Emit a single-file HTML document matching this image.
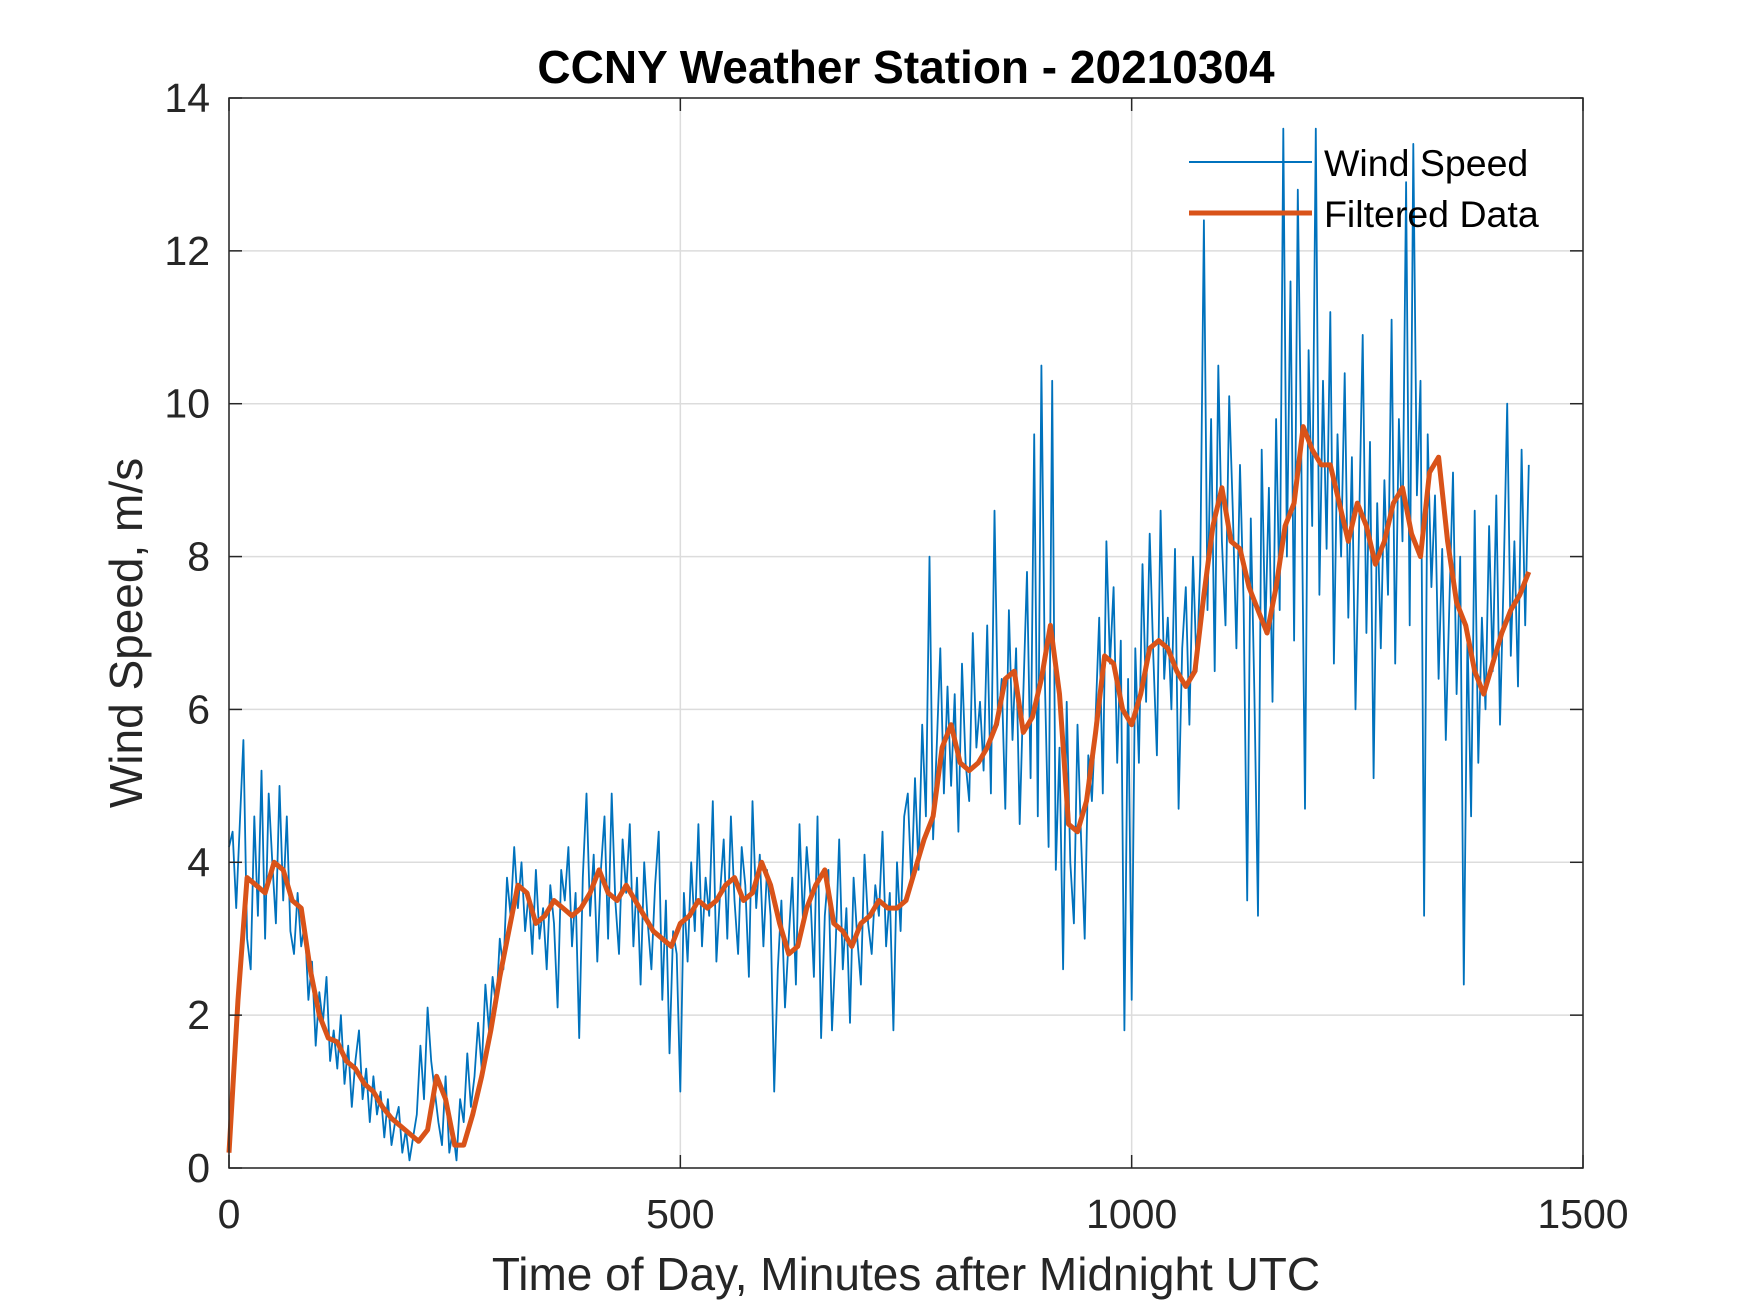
<!DOCTYPE html>
<html><head><meta charset="utf-8"><style>
html,body{margin:0;padding:0;background:#fff;}
svg{display:block;font-family:"Liberation Sans",Arial,sans-serif;}
</style></head><body>
<svg id="chart" width="1750" height="1313" viewBox="0 0 1750 1313">
<rect width="1750" height="1313" fill="#fff"/>
<g id="grid"></g>
<g id="series"></g>
<g id="axes"></g>
<text x="906" y="83" text-anchor="middle" font-size="46" font-weight="bold" fill="#000">CCNY Weather Station - 20210304</text>
<text x="906" y="1290" text-anchor="middle" font-size="46" fill="#262626">Time of Day, Minutes after Midnight UTC</text>
<text transform="translate(142,633) rotate(-90)" text-anchor="middle" font-size="46" fill="#262626">Wind Speed, m/s</text>
<g>
<line x1="1189" y1="162" x2="1312" y2="162" stroke="#0072BD" stroke-width="2"/>
<text x="1324" y="176" font-size="37.5" fill="#000">Wind Speed</text>
<line x1="1189" y1="213" x2="1312" y2="213" stroke="#D95319" stroke-width="5"/>
<text x="1324" y="227" font-size="37.5" fill="#000">Filtered Data</text>
</g>
</svg>
<script>
const rawStep = 4;
const rawValues = [
4.2,4.4,3.4,4.5,5.6,3.0,2.6,4.6,3.3,5.2,
3.0,4.9,4.0,3.2,5.0,3.5,4.6,3.1,2.8,3.6,
2.9,3.2,2.2,2.7,1.6,2.3,1.9,2.5,1.4,1.8,
1.3,2.0,1.1,1.6,0.8,1.4,1.8,0.9,1.3,0.6,
1.2,0.7,1.0,0.4,0.9,0.3,0.6,0.8,0.2,0.5,
0.1,0.4,0.7,1.6,0.9,2.1,1.4,1.0,0.6,0.3,
1.2,0.2,0.5,0.1,0.9,0.6,1.5,0.8,1.2,1.9,
1.3,2.4,1.8,2.5,2.1,3.0,2.6,3.8,3.3,4.2,
3.4,4.0,3.1,3.6,2.8,3.9,3.0,3.4,2.6,3.7,
3.2,2.1,3.9,3.5,4.2,2.9,3.6,1.7,3.8,4.9,
3.3,4.1,2.7,3.9,4.6,3.0,4.9,3.5,2.8,4.3,
3.6,4.5,2.9,3.8,2.4,4.0,3.2,2.6,3.7,4.4,
2.2,3.5,1.5,3.1,2.8,1.0,3.6,2.7,4.0,3.1,
4.5,2.9,3.8,3.3,4.8,2.7,3.6,4.3,3.0,4.6,
3.5,2.8,4.2,3.7,2.5,4.8,3.4,4.1,2.9,3.9,
3.3,1.0,2.6,3.5,2.1,3.0,3.8,2.4,4.5,3.2,
4.2,3.6,2.5,4.6,1.7,3.3,3.9,1.8,2.9,4.3,
2.6,3.4,1.9,3.8,3.0,2.4,4.1,3.2,2.8,3.7,
3.3,4.4,2.9,3.6,1.8,4.0,3.1,4.6,4.9,3.7,
5.1,3.9,5.8,4.6,8.0,4.3,5.5,6.8,4.9,6.3,
5.0,6.2,4.4,6.6,5.3,4.8,7.0,5.5,6.1,5.2,
7.1,4.9,8.6,5.8,6.4,4.7,7.3,5.6,6.8,4.5,
6.2,7.8,5.1,9.6,4.6,10.5,6.3,4.2,10.3,3.9,
5.5,2.6,6.1,4.0,3.2,5.8,4.3,3.0,5.4,4.8,
5.9,7.2,4.9,8.2,6.6,7.6,5.3,6.9,1.8,6.4,
2.2,6.8,5.3,7.9,6.1,8.3,6.7,5.4,8.6,6.4,
7.2,6.0,8.1,4.7,6.8,7.6,5.8,8.0,6.5,7.9,
12.4,7.3,9.8,6.5,10.5,8.2,7.1,10.1,8.6,6.8,
9.2,7.4,3.5,8.5,6.2,3.3,9.4,7.0,8.9,6.1,
9.8,7.3,13.6,8.0,11.6,6.9,12.8,9.2,4.7,10.7,
8.4,13.6,7.5,10.3,8.1,11.2,6.6,9.6,8.0,10.4,
7.2,9.3,6.0,8.4,10.9,7.0,9.5,5.1,8.7,6.8,
9.0,7.5,11.1,6.6,9.8,8.2,12.9,7.1,13.4,8.8,
10.3,3.3,9.6,7.6,8.8,6.4,8.1,5.6,7.4,9.1,
6.2,8.0,2.4,7.0,4.6,8.6,5.3,7.2,6.0,8.4,
6.5,8.8,5.8,7.7,10.0,6.7,8.2,6.3,9.4,7.1,
9.2];
const filtStep = 10;
const filtValues = [
0.2,2.2,3.8,3.7,3.6,4.0,3.9,3.5,3.4,2.6,
2.0,1.7,1.65,1.4,1.3,1.1,1.0,0.8,0.65,0.55,
0.45,0.35,0.5,1.2,0.9,0.3,0.3,0.7,1.2,1.8,
2.5,3.1,3.7,3.6,3.2,3.3,3.5,3.4,3.3,3.4,
3.6,3.9,3.6,3.5,3.7,3.5,3.3,3.1,3.0,2.9,
3.2,3.3,3.5,3.4,3.5,3.7,3.8,3.5,3.6,4.0,
3.7,3.2,2.8,2.9,3.4,3.7,3.9,3.2,3.1,2.9,
3.2,3.3,3.5,3.4,3.4,3.5,3.9,4.3,4.6,5.5,
5.8,5.3,5.2,5.3,5.5,5.8,6.4,6.5,5.7,5.9,
6.4,7.1,6.2,4.5,4.4,4.8,5.7,6.7,6.6,6.0,
5.8,6.2,6.8,6.9,6.8,6.5,6.3,6.5,7.5,8.4,
8.9,8.2,8.1,7.6,7.3,7.0,7.6,8.4,8.7,9.7,
9.4,9.2,9.2,8.7,8.2,8.7,8.4,7.9,8.2,8.7,
8.9,8.3,8.0,9.1,9.3,8.2,7.4,7.1,6.5,6.2,
6.6,7.0,7.3,7.5,7.8];
const xTicks = [0,500,1000,1500];
const yTicks = [0,2,4,6,8,10,12,14];

const L=229,R=1583,T=98,B=1168;
const xs = v => L + v/1500*(R-L);
const ys = v => B - v/14*(B-T);
const NS="http://www.w3.org/2000/svg";
function mk(tag, attrs, parent){const e=document.createElementNS(NS,tag);for(const k in attrs)e.setAttribute(k,attrs[k]);parent.appendChild(e);return e;}
const grid=document.getElementById('grid'), axes=document.getElementById('axes'), series=document.getElementById('series');
xTicks.forEach(t=>{
  const g=mk('line',{x1:xs(t),x2:xs(t),y1:T,y2:B,stroke:'#dcdcdc','stroke-width':1.5},grid);
  
  
  const tk=mk('line',{x1:xs(t),x2:xs(t),y1:B,y2:B-13,stroke:'#262626','stroke-width':1.5},axes);
  
  
  const tk2=mk('line',{x1:xs(t),x2:xs(t),y1:T,y2:T+13,stroke:'#262626','stroke-width':1.5},axes);
  
  
  const tx=mk('text',{x:xs(t),y:1228,'text-anchor':'middle','font-size':41,fill:'#262626'},axes);
  tx.textContent=t;
  
  
});
yTicks.forEach(t=>{
  const g=mk('line',{x1:L,x2:R,y1:ys(t),y2:ys(t),stroke:'#dcdcdc','stroke-width':1.5},grid);
  
  
  const tk=mk('line',{x1:L,x2:L+13,y1:ys(t),y2:ys(t),stroke:'#262626','stroke-width':1.5},axes);
  
  
  const tk2=mk('line',{x1:R,x2:R-13,y1:ys(t),y2:ys(t),stroke:'#262626','stroke-width':1.5},axes);
  
  
  const tx=mk('text',{x:210,y:ys(t)+14,'text-anchor':'end','font-size':41,fill:'#262626'},axes);
  tx.textContent=t;
  
  
});
const box=mk('rect',{x:L,y:T,width:R-L,height:B-T,fill:'none',stroke:'#262626','stroke-width':1.5},axes);


const rawPts=rawValues.map((v,i)=>xs(i*rawStep).toFixed(1)+','+ys(v).toFixed(1)).join(' ');
const rp=mk('polyline',{points:rawPts,fill:'none',stroke:'#0072BD','stroke-width':1.8,'stroke-linejoin':'round'},series);


const fPts=filtValues.map((v,i)=>xs(i*filtStep).toFixed(1)+','+ys(v).toFixed(1)).join(' ');
const fp=mk('polyline',{points:fPts,fill:'none',stroke:'#D95319','stroke-width':5,'stroke-linejoin':'round'},series);


</script>
</body></html>
